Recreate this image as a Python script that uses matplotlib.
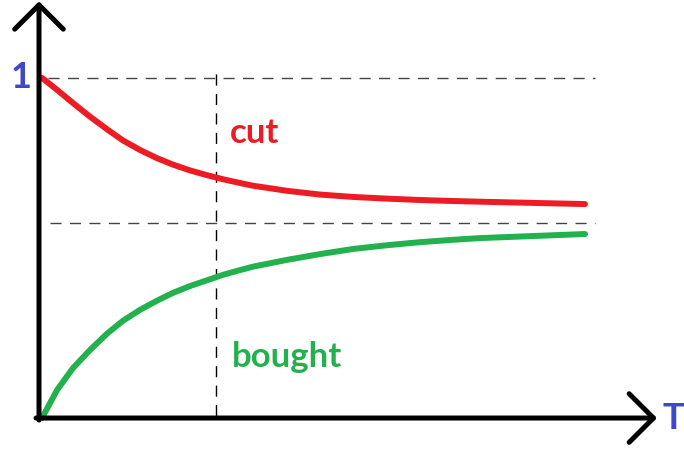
import matplotlib
matplotlib.use("Agg")
import matplotlib.pyplot as plt

# values (T in arbitrary units, share of 1)
t = [0.02, 0.17, 0.33, 0.50, 0.67, 0.83, 1.00, 1.17, 1.33, 1.50, 1.67,
     1.83, 2.00, 2.13, 2.47, 2.80, 3.13, 3.47, 3.80, 4.13, 4.40, 5.45]
cut = [1.000, 0.965, 0.926, 0.886, 0.849, 0.816, 0.788, 0.764, 0.745, 0.728, 0.714,
       0.702, 0.691, 0.683, 0.668, 0.657, 0.650, 0.645, 0.641, 0.638, 0.636, 0.629]
bought = [0.000, 0.082, 0.147, 0.200, 0.248, 0.286, 0.318, 0.345, 0.368, 0.388, 0.405,
          0.421, 0.435, 0.445, 0.465, 0.482, 0.497, 0.508, 0.517, 0.524, 0.529, 0.541]
limit = 0.574
t_mark = 1.76

RED = "#ed1c24"
GREEN = "#22b14c"
BLUE = "#3f48cc"
GRAY = "#444444"
FONT = "Lato"

fig = plt.figure(figsize=(6.84, 4.5), dpi=100)
ax = fig.add_axes([0, 0, 1, 1])
ax.set_xlim(-0.40, 6.44)
ax.set_ylim(-0.094, 1.229)
ax.axis("off")

# guide lines
ax.plot([0.08, 5.55], [1, 1], color=GRAY, lw=1, dashes=(8, 6))
ax.plot([0.10, 5.55], [limit, limit], color=GRAY, lw=1, dashes=(8, 6))
ax.plot([t_mark, t_mark], [1.01, 0], color="black", lw=1, dashes=(8, 6))

# curves
ax.plot(t, cut, color=RED, lw=4.3, solid_capstyle="round", solid_joinstyle="round")
ax.plot(t, bought, color=GREEN, lw=4.3, solid_capstyle="round", solid_joinstyle="round")

# axes with arrows
arrow = dict(arrowstyle="->,head_length=1.75,head_width=1.75", lw=3.6,
             color="black", shrinkA=0, shrinkB=0)
ax.annotate("", xy=(-0.01, 1.225), xytext=(-0.01, -0.006), arrowprops=arrow)
ax.annotate("", xy=(6.17, 0), xytext=(-0.04, 0), arrowprops=arrow)

# labels
ax.text(-0.19, 1.0, "1", color=BLUE, fontsize=26, fontweight="bold",
        family=FONT, ha="center", va="center")
ax.text(6.33, 0.0, "T", color=BLUE, fontsize=26, fontweight="bold",
        family=FONT, ha="center", va="center")
ax.text(1.90, 0.809, "cut", color=RED, fontsize=25, fontweight="bold",
        family=FONT, ha="left", va="baseline")
ax.text(1.92, 0.150, "bought", color=GREEN, fontsize=25, fontweight="bold",
        family=FONT, ha="left", va="baseline")

fig.savefig("out.png", dpi=100)
